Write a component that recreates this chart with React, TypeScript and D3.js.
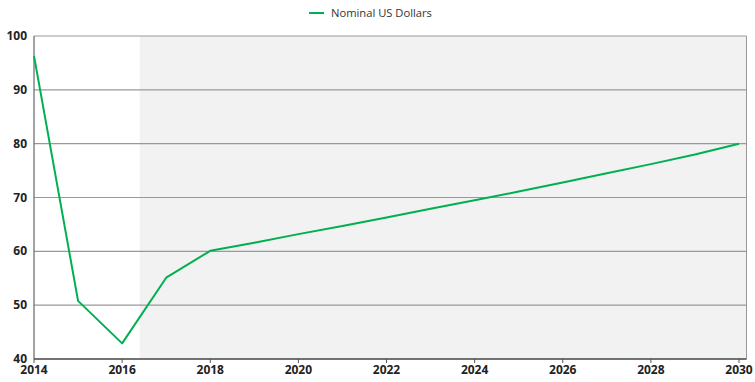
import React from "react";
import * as d3 from "d3";

const years = [2014, 2015, 2016, 2017, 2018, 2019, 2020, 2021, 2022, 2023, 2024, 2025, 2026, 2027, 2028, 2029, 2030];
const values = [96.3, 50.8, 42.9, 55.1, 60.1, 61.6, 63.2, 64.7, 66.3, 67.9, 69.5, 71.1, 72.8, 74.5, 76.2, 78.0, 80.0];
const yTicks = [40, 50, 60, 70, 80, 90, 100];
const xTicks = [2014, 2016, 2018, 2020, 2022, 2024, 2026, 2028, 2030];
const shadeStart = 2016.4;
const seriesName = "Nominal US Dollars";

export default function App() {
  const W = 755, H = 382;
  const left = 34, right = 746.5, top = 36, bottom = 359;
  const x = d3.scaleLinear().domain([2014, 2030]).range([left, 739]);
  const y = d3.scaleLinear().domain([40, 100]).range([bottom, top]);
  const line = d3.line<number>().x((_, i) => x(years[i])).y((v) => y(v));
  const font = "'Open Sans', 'DejaVu Sans', sans-serif";
  return (
    <svg width={W} height={H} style={{ position: "absolute", left: 0, top: 0 }} fontFamily={font}>
      <rect x={0} y={0} width={W} height={H} fill="#fff" />
      <rect x={x(shadeStart)} y={top} width={right - x(shadeStart)} height={bottom - top} fill="#f2f2f2" />
      {yTicks.map((t) => (
        <line key={t} x1={left} x2={right} y1={y(t)} y2={y(t)} stroke="#999" strokeWidth={1.2} />
      ))}
      <line x1={right} x2={right} y1={top} y2={bottom} stroke="#999" strokeWidth={1} />
      <line x1={left} x2={left} y1={top} y2={bottom} stroke="#666" strokeWidth={1.2} />
      <line x1={left} x2={right} y1={bottom} y2={bottom} stroke="#555" strokeWidth={1.3} />
      {xTicks.map((t) => (
        <g key={t}>
          <line x1={x(t)} x2={x(t)} y1={bottom} y2={bottom + 4} stroke="#555" strokeWidth={1} />
          <text x={x(t)} y={bottom + 15} textAnchor="middle" fontSize={12} fontWeight="bold" fill="#222">{t}</text>
        </g>
      ))}
      {yTicks.map((t) => (
        <text key={t} x={27} y={y(t) + 4} textAnchor="end" fontSize={12} fontWeight="bold" fill="#222">{t}</text>
      ))}
      <path d={line(values) || ""} fill="none" stroke="#00b050" strokeWidth={2} strokeLinejoin="round" />
      <line x1={309} x2={324} y1={13} y2={13} stroke="#00b050" strokeWidth={2} />
      <text x={331} y={17} fontSize={11.2} fill="#333">{seriesName}</text>
    </svg>
  );
}
